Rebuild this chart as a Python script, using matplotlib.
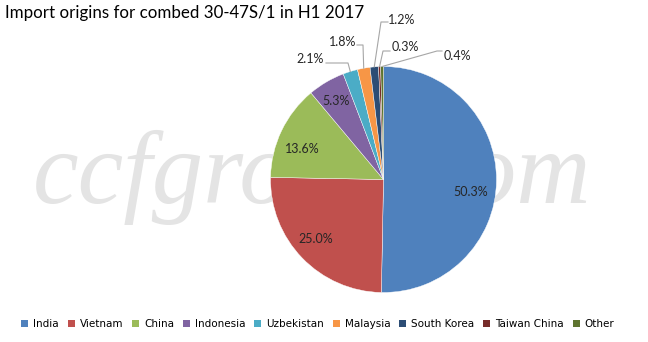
import matplotlib
matplotlib.use("Agg")
import matplotlib.pyplot as plt
import numpy as np
from matplotlib.patches import Patch

countries = ["India", "Vietnam", "China", "Indonesia", "Uzbekistan",
             "Malaysia", "South Korea", "Taiwan China", "Other"]
shares = [50.3, 25.0, 13.6, 5.3, 2.1, 1.8, 1.2, 0.3, 0.4]
colors = ["#4F81BD", "#C0504D", "#9BBB59", "#8064A2", "#4BACC6",
          "#F79646", "#2C4D75", "#772C2A", "#5F7530"]
title = "Import origins for combed 30-47S/1 in H1 2017"

# layout (pixels in the 648x342 image)
W, H = 648, 342
CX, CY, R = 383.5, 179.5, 113.0
# label centres, and optional leader-line elbow/end points
label_pos = [(471, 192), (316, 239), (302, 149), (336, 101),
             (310, 59), (343, 42), (402, 20), (405, 47), (457, 56)]
leaders = {4: [(348, 63), (326, 63)],
           5: [(363, 45), (357, 45)],
           6: [(381, 22), (388, 22)],
           7: [(383, 51), (390, 51)],
           8: [(437, 51), (442, 51)]}


def to_data(px, py):
    return (px - CX) / R, (CY - py) / R


fig = plt.figure(figsize=(W / 100, H / 100), dpi=100)
ax = fig.add_axes([0, 0, 1, 1])

wedges, _ = ax.pie(shares, colors=colors, startangle=90, counterclock=False,
                   radius=1, wedgeprops=dict(edgecolor="white", linewidth=0.3, zorder=2))
ax.set_aspect("equal")
ax.set_xlim(-CX / R, (W - CX) / R)
ax.set_ylim(-(H - CY) / R, CY / R)
ax.axis("off")

# watermark
wx, wy = to_data(312, 203)
ax.text(wx, wy, "ccfgroup.com", fontsize=74, family="Liberation Serif",
        style="italic", color="#e4e4e4", ha="center", va="baseline", zorder=0)

for i, (w, s) in enumerate(zip(wedges, shares)):
    tx, ty = to_data(*label_pos[i])
    ax.text(tx, ty, f"{s:.1f}%", fontsize=9, family="Lato", ha="center",
            va="center", color="#262626", zorder=5)
    if i in leaders:
        ang = np.deg2rad((w.theta1 + w.theta2) / 2)
        pts = [(np.cos(ang), np.sin(ang))] + [to_data(*p) for p in leaders[i]]
        xs, ys = zip(*pts)
        ax.plot(xs, ys, color="#a6a6a6", lw=0.8, zorder=4)

fig.text(5 / W, 1 - 13 / H, title, fontsize=12.2, family="Lato",
         ha="left", va="center", color="#000000")

handles = [Patch(facecolor=c, edgecolor="none") for c in colors]
fig.legend(handles, countries, loc="center", bbox_to_anchor=(318 / W, 1 - 324 / H),
           ncol=len(countries), frameon=False, handlelength=0.65,
           handleheight=0.65, handletextpad=0.5, columnspacing=0.85,
           prop=dict(family="DejaVu Sans", size=7.5))

fig.savefig("out.png", dpi=100)
